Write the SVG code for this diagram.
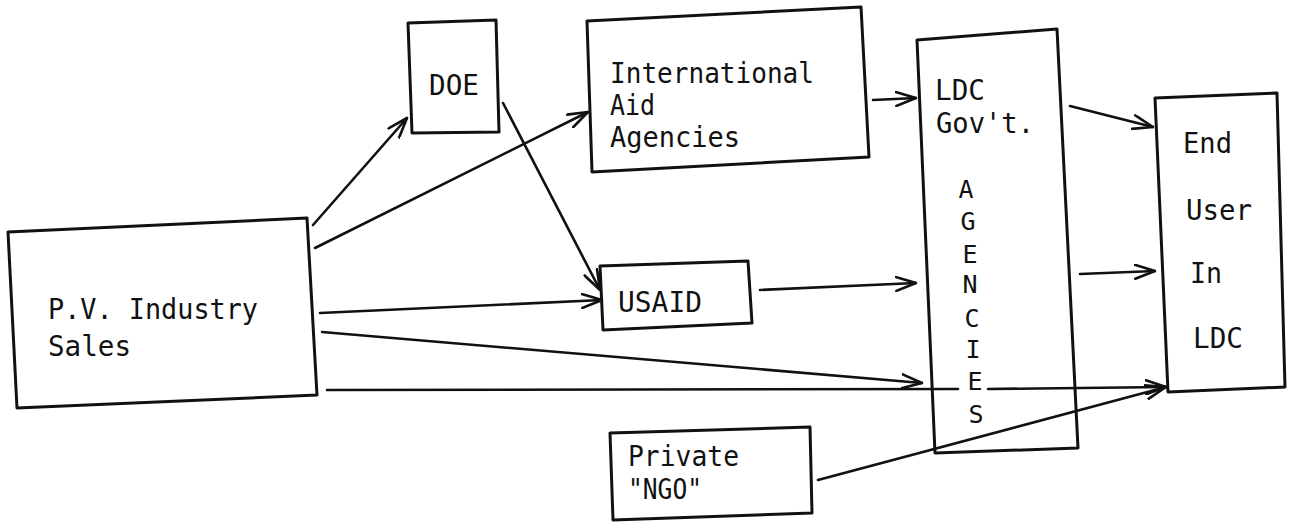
<svg xmlns="http://www.w3.org/2000/svg" width="1290" height="523" viewBox="0 0 1290 523">
<style>
.box{fill:none;stroke:#111;stroke-width:3;stroke-linejoin:round}
.t{font-family:"DejaVu Sans Mono","Liberation Mono",monospace;font-size:28px;fill:#111}
.s{font-family:"DejaVu Sans Mono","Liberation Mono",monospace;font-size:25px;fill:#111;text-anchor:middle}
.c{fill:none;stroke:#111;stroke-width:2.6;stroke-linecap:round}
</style>
<defs>
<marker id="ah" viewBox="0 0 22 16" refX="21" refY="8" markerWidth="22" markerHeight="16" markerUnits="userSpaceOnUse" orient="auto">
<path d="M1,1 L21,8 L1,15" fill="none" stroke="#111" stroke-width="2.6" stroke-linecap="round" stroke-linejoin="round"/>
</marker>
</defs>
<rect width="1290" height="523" fill="#fff"/>
<g id="pv">
<polygon class="box" points="8,232 307,218 317,395 17,408"/>
<text class="t" x="48" y="319" textLength="210" lengthAdjust="spacingAndGlyphs">P.V. Industry</text>
<text class="t" x="48" y="356" textLength="83" lengthAdjust="spacingAndGlyphs">Sales</text>
</g>
<g id="doe">
<polygon class="box" points="408,23 496,20 499,132 412,133"/>
<text class="t" x="429" y="95" textLength="50" lengthAdjust="spacingAndGlyphs">DOE</text>
</g>
<g id="intl">
<polygon class="box" points="587,21 861,7 869,157 592,172"/>
<text class="t" x="610" y="83" textLength="204" lengthAdjust="spacingAndGlyphs">International</text>
<text class="t" x="610" y="115" textLength="45" lengthAdjust="spacingAndGlyphs">Aid</text>
<text class="t" x="610" y="147" textLength="130" lengthAdjust="spacingAndGlyphs">Agencies</text>
</g>
<g id="usaid">
<polygon class="box" points="600,266 748,261 752,323 603,330"/>
<text class="t" x="618" y="312" textLength="84" lengthAdjust="spacingAndGlyphs">USAID</text>
</g>
<g id="ngo">
<polygon class="box" points="610,433 810,427 812,513 613,520"/>
<text class="t" x="628" y="466" textLength="111" lengthAdjust="spacingAndGlyphs">Private</text>
<text class="t" x="628" y="499" textLength="74" lengthAdjust="spacingAndGlyphs">"NGO"</text>
</g>
<g id="ldc">
<polygon class="box" points="917,40 1057,29 1078,448 935,453"/>
<text class="t" x="935" y="100" textLength="50" lengthAdjust="spacingAndGlyphs">LDC</text>
<text class="t" x="936" y="133" textLength="98" lengthAdjust="spacingAndGlyphs">Gov't.</text>
<text class="s" x="966" y="198">A</text>
<text class="s" x="968" y="230">G</text>
<text class="s" x="970" y="263">E</text>
<text class="s" x="970" y="293">N</text>
<text class="s" x="972" y="327">C</text>
<text class="s" x="973" y="358">I</text>
<text class="s" x="975" y="390">E</text>
<text class="s" x="976" y="423">S</text>
</g>
<g id="enduser">
<polygon class="box" points="1155,98 1277,93 1285,387 1168,392"/>
<text class="t" x="1183" y="153" textLength="49" lengthAdjust="spacingAndGlyphs">End</text>
<text class="t" x="1186" y="220" textLength="66" lengthAdjust="spacingAndGlyphs">User</text>
<text class="t" x="1190" y="283" textLength="32" lengthAdjust="spacingAndGlyphs">In</text>
<text class="t" x="1193" y="348" textLength="50" lengthAdjust="spacingAndGlyphs">LDC</text>
</g>
<g id="connectors">
<path class="c" d="M313,225 L407,118" marker-end="url(#ah)"/>
<path class="c" d="M315,248 L588,112" marker-end="url(#ah)"/>
<path class="c" d="M503,103 L600,290" marker-end="url(#ah)"/>
<path class="c" d="M320,313 L602,300" marker-end="url(#ah)"/>
<path class="c" d="M322,332 L922,383" marker-end="url(#ah)"/>
<path class="c" d="M327,390 L958,389 M988,389 L1166,387" marker-end="url(#ah)"/>
<path class="c" d="M873,100 L916,98" marker-end="url(#ah)"/>
<path class="c" d="M760,290 L916,283" marker-end="url(#ah)"/>
<path class="c" d="M1070,106 L1153,127" marker-end="url(#ah)"/>
<path class="c" d="M1080,274 L1155,271" marker-end="url(#ah)"/>
<path class="c" d="M818,480 L1166,387" marker-end="url(#ah)"/>
</g>
</svg>
